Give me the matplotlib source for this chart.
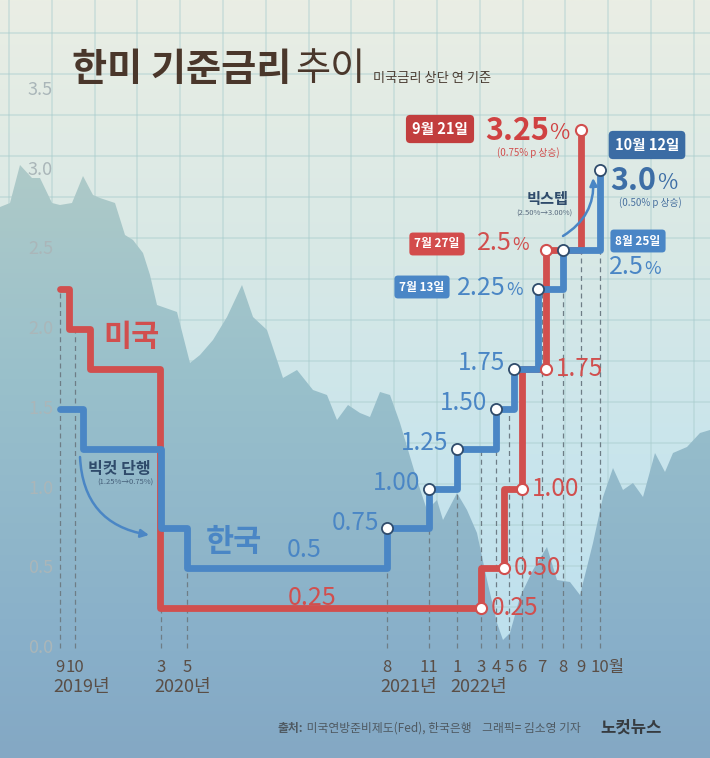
import numpy as np
import matplotlib
matplotlib.use('Agg')
import matplotlib.pyplot as plt
import matplotlib.dates as mdates
from matplotlib.colors import LinearSegmentedColormap
from matplotlib.patches import Polygon

plt.rcParams['font.family'] = ['Noto Sans CJK KR', 'DejaVu Sans']

# ---- data ----
us_dates = ['2019-09-01', '2019-09-18', '2019-10-30', '2020-03-15', '2022-03-16',
            '2022-05-04', '2022-06-15', '2022-07-27', '2022-09-21']
us_rate = [2.25, 2.00, 1.75, 0.25, 0.50, 1.00, 1.75, 2.50, 3.25]

kr_dates = ['2019-09-01', '2019-10-16', '2020-03-16', '2020-05-28', '2021-08-26',
            '2021-11-25', '2022-01-14', '2022-04-14', '2022-05-26', '2022-07-13',
            '2022-08-25', '2022-10-12']
kr_rate = [1.50, 1.25, 0.75, 0.50, 0.75, 1.00, 1.25, 1.50, 1.75, 2.25, 2.50, 3.00]

tick_dates = ['2019-09-01', '2019-10-01', '2020-03-16', '2020-05-28', '2021-08-26',
              '2021-11-25', '2022-01-14', '2022-03-16', '2022-04-14', '2022-05-15',
              '2022-06-15', '2022-07-20', '2022-08-25', '2022-09-21', '2022-10-12']
tick_labels = ['9', '10', '3', '5', '8', '11', '1', '3', '4', '5', '6', '7', '8', '9', '10월']
y_ticks = [0.0, 0.5, 1.0, 1.5, 2.0, 2.5, 3.0, 3.5]

# decorative index silhouette behind the chart (canvas pixels)
backdrop_x = [0, 10, 20, 32, 40, 52, 60, 72, 83, 93, 100, 115, 125, 133, 143, 150, 157,
              177, 190, 200, 213, 227, 242, 253, 267, 283, 297, 313, 327, 337, 348, 360,
              370, 380, 390, 400, 417, 427, 437, 443, 457, 467, 477, 487, 497, 503, 510,
              520, 533, 547, 557, 570, 580, 593, 603, 613, 623, 633, 643, 655, 665, 673,
              687, 700, 710]
backdrop_y = [207, 203, 165, 178, 178, 203, 205, 203, 176, 195, 198, 203, 235, 240, 253,
              275, 305, 312, 363, 355, 340, 317, 285, 317, 330, 378, 370, 390, 395, 420,
              405, 413, 417, 392, 395, 423, 480, 510, 500, 520, 493, 510, 533, 580, 623,
              640, 633, 597, 570, 547, 580, 582, 595, 543, 497, 468, 490, 483, 497, 453,
              472, 453, 447, 433, 430]

# uneven horizontal layout of the original graphic
axis_dates = ['2019-05-01'] + tick_dates + ['2023-02-10']
axis_px = [0, 60, 75, 161, 187, 387, 429, 457, 481, 496, 509, 522, 542, 563, 581, 600, 710]

RED = '#d14f4e'
BLUE = '#4a86c5'
NAVY = '#2f4b6b'
W, H = 710, 758

fig = plt.figure(figsize=(7.1, 7.58), dpi=100)

# background layer in pixel space
bg = fig.add_axes([0, 0, 1, 1])
bg.set_xlim(0, W)
bg.set_ylim(H, 0)
bg.axis('off')
grad = np.linspace(0, 1, 256)[:, None]
bg_cmap = LinearSegmentedColormap.from_list(
    'bg', [(0, '#eaeee4'), (0.35, '#d7e8e6'), (0.6, '#c9e5ec'), (0.86, '#bde0ee'), (1, '#b8dcec')])
bg.imshow(grad, cmap=bg_cmap, extent=(0, W, H, 0), aspect='auto', zorder=0)
for k in range(17):
    bg.axvline(9 + 42.8 * k, color='#a8cccd', lw=1.1, alpha=0.5, zorder=1)
for k in range(19):
    bg.axhline(33 + 41 * k, color='#a8cccd', lw=1.1, alpha=0.5, zorder=1)

verts = list(zip(backdrop_x, backdrop_y)) + [(W, H), (0, H)]
mtn = Polygon(verts, closed=True, facecolor='none', edgecolor='none')
bg.add_patch(mtn)
mtn_cmap = LinearSegmentedColormap.from_list(
    'mtn', [(0, '#b4cec9'), (0.22, '#aecac8'), (0.5, '#99c0cb'), (0.86, '#88afc9'), (1, '#84a8c4')])
im = bg.imshow(grad, cmap=mtn_cmap, extent=(0, W, H, 0), aspect='auto', zorder=2)
im.set_clip_path(mtn)

# chart layer
ax = fig.add_axes([0, 0, 1, 1])
ax.patch.set_alpha(0)
ax.axis('off')
anchor_num = mdates.datestr2num(axis_dates)
ax.set_xscale('function', functions=(lambda x: np.interp(x, anchor_num, axis_px),
                                     lambda p: np.interp(p, axis_px, anchor_num)))
ax.set_xlim(anchor_num[0], anchor_num[-1])
ax.set_ylim((648 - H) / 159.4, 648 / 159.4)
T = bg.transData

us_x = mdates.datestr2num(us_dates)
kr_x = mdates.datestr2num(kr_dates)
tick_x = mdates.datestr2num(tick_dates)


def level(xs, rates, t):
    # rate in force at t, only while the series is drawn
    if t < xs[0] or t > xs[-1]:
        return 0
    return rates[np.searchsorted(xs, t, side='right') - 1]


tops = [max(level(us_x, us_rate, t), level(kr_x, kr_rate, t)) for t in tick_x]
ax.vlines(tick_x, 0, tops, colors='#6e7d86', linestyles=(0, (4, 3)), lw=0.9, zorder=1)

ax.plot(us_x, us_rate, drawstyle='steps-post', color=RED, lw=4.9,
        solid_joinstyle='round', solid_capstyle='round', zorder=2)
ax.plot(kr_x, kr_rate, drawstyle='steps-post', color=BLUE, lw=4.9,
        solid_joinstyle='round', solid_capstyle='round', zorder=3)

# red markers: level before each 2022 hike, plus the last two new levels
for i in range(4, 8):
    ax.plot(us_x[i], us_rate[i - 1], 'o', ms=8, mfc='white', mec=RED, mew=1.5, zorder=5)
    ax.annotate(f'{us_rate[i - 1]:.2f}', xy=(us_x[i], us_rate[i - 1]), xytext=(7, 0),
                textcoords='offset points', ha='left', va='center', fontsize=17.5,
                color=RED, zorder=6)
for i in (7, 8):
    ax.plot(us_x[i], us_rate[i], 'o', ms=8, mfc='white', mec=RED, mew=1.5, zorder=5)

# blue markers: every step since Aug 2021
for i in range(4, len(kr_rate)):
    ax.plot(kr_x[i], kr_rate[i], 'o', ms=8, mfc='white', mec=NAVY, mew=1.3, zorder=5)
    if i <= 8:
        ax.annotate(f'{kr_rate[i]:.2f}', xy=(kr_x[i], kr_rate[i]), xytext=(-6, 4),
                    textcoords='offset points', ha='right', va='center', fontsize=17.5,
                    color=BLUE, zorder=6)

# axis labels
for v in y_ticks:
    ax.text(0.057, v, f'{v:.1f}', transform=ax.get_yaxis_transform(), ha='center',
            va='center', fontsize=13, color='#aab6b9', fontweight='light')
for t, lbl in zip(tick_x, tick_labels):
    if lbl.endswith('월'):
        ax.annotate(lbl, xy=(t, 0), xytext=(-6.5, -14), textcoords='offset points',
                    ha='left', va='center', fontsize=12, color='#5a4e46')
    else:
        ax.annotate(lbl, xy=(t, 0), xytext=(0, -14), textcoords='offset points',
                    ha='center', va='center', fontsize=12, color='#5a4e46')
seen = set()
for t, d in zip(tick_x, tick_dates):
    if d[:4] not in seen:
        seen.add(d[:4])
        ax.annotate(d[:4] + '년', xy=(t, 0), xytext=(-5, -28), textcoords='offset points',
                    ha='left', va='center', fontsize=13, color='#5a4e46')

# title
t1 = ax.text(72, 81, '한미 기준금리', transform=T, fontsize=27.5, fontweight='bold',
             color='#4a372b', va='baseline', ha='left')
t2 = ax.annotate('추이', xy=(1, 0), xycoords=t1, xytext=(3, 0), textcoords='offset points',
                 fontsize=27.5, color='#4a372b', va='bottom', ha='left')
ax.annotate('미국금리 상단 연 기준', xy=(1, 0), xycoords=t2, xytext=(5, 3),
            textcoords='offset points', fontsize=9.5, color='#4a3d33', va='bottom', ha='left')


def box(x, y, s, fc, size):
    ax.text(x, y, s, transform=T, ha='center', va='center', fontsize=size,
            fontweight='bold', color='white', zorder=7,
            bbox=dict(boxstyle='round,pad=0.42,rounding_size=0.3', fc=fc, ec='none'))


def value(x, y, s, color, size, weight='normal'):
    num = ax.text(x, y, s, transform=T, ha='left', va='center', fontsize=size,
                  color=color, fontweight=weight, zorder=7)
    ax.annotate('%', xy=(1, 0.08), xycoords=num, xytext=(0.5, 0), textcoords='offset points',
                ha='left', va='bottom', fontsize=size * 0.72, color=color,
                fontweight='light', zorder=7)


box(440, 129, '9월 21일', '#c23e3e', 10.5)
value(485, 131, '3.25', '#d04242', 22, 'bold')
ax.text(528, 153, '(0.75% p 상승)', transform=T, ha='center', va='center', fontsize=7,
        color=RED)
box(437, 244, '7월 27일', '#d34c4c', 8.5)
value(477, 243, '2.5', RED, 18)
box(422, 287, '7월 13일', '#4a86c6', 8.5)
value(457, 288, '2.25', BLUE, 18)
box(638, 241, '8월 25일', '#4a86c6', 8.5)
value(609, 267, '2.5', BLUE, 18)
box(647, 145, '10월 12일', '#3b6ca4', 10.5)
value(610, 181, '3.0', '#3d6ea6', 22, 'bold')
ax.text(650, 203, '(0.50% p 상승)', transform=T, ha='center', va='center', fontsize=7,
        color='#4a72a0')

ax.text(548, 199, '빅스텝', transform=T, ha='center', va='center', fontsize=11,
        fontweight='bold', color=NAVY)
ax.text(544, 214, '(2.50%→3.00%)', transform=T, ha='center', va='center', fontsize=5.5,
        color='#5a6c80')
ax.annotate('', xy=(593, 178), xycoords=T, xytext=(563, 236), textcoords=T,
            arrowprops=dict(arrowstyle='-|>', color=BLUE, lw=1.8, mutation_scale=11,
                            connectionstyle='arc3,rad=0.3', shrinkA=0, shrinkB=0), zorder=6)

ax.text(119, 469, '빅컷 단행', transform=T, ha='center', va='center', fontsize=11.5,
        fontweight='bold', color=NAVY)
ax.text(125, 483, '(1.25%→0.75%)', transform=T, ha='center', va='center', fontsize=5.5,
        color='#46607a')
ax.annotate('', xy=(149, 535), xycoords=T, xytext=(80, 457), textcoords=T,
            arrowprops=dict(arrowstyle='-|>', color=BLUE, lw=1.8, mutation_scale=12,
                            connectionstyle='arc3,rad=0.4', shrinkA=0, shrinkB=0), zorder=6)

ax.text(131, 337, '미국', transform=T, ha='center', va='center', fontsize=22,
        fontweight='bold', color=RED)
ax.text(234, 542, '한국', transform=T, ha='center', va='center', fontsize=22,
        fontweight='bold', color=BLUE)
ax.text(304, 550, '0.5', transform=T, ha='center', va='center', fontsize=18, color=BLUE)
ax.text(312, 598, '0.25', transform=T, ha='center', va='center', fontsize=18, color=RED)

# credits
c1 = ax.text(278, 732, '출처:', transform=T, ha='left', va='baseline', fontsize=8.5,
             fontweight='bold', color='#4f5a62')
ax.annotate(' 미국연방준비제도(Fed), 한국은행    그래픽= 김소영 기자', xy=(1, 0), xycoords=c1,
            ha='left', va='bottom', fontsize=8.5, color='#4f5a62')
ax.text(631, 728, '노컷뉴스', transform=T, ha='center', va='center', fontsize=12,
        fontweight='heavy', color='#363b40')

fig.savefig('out.png', dpi=100)
